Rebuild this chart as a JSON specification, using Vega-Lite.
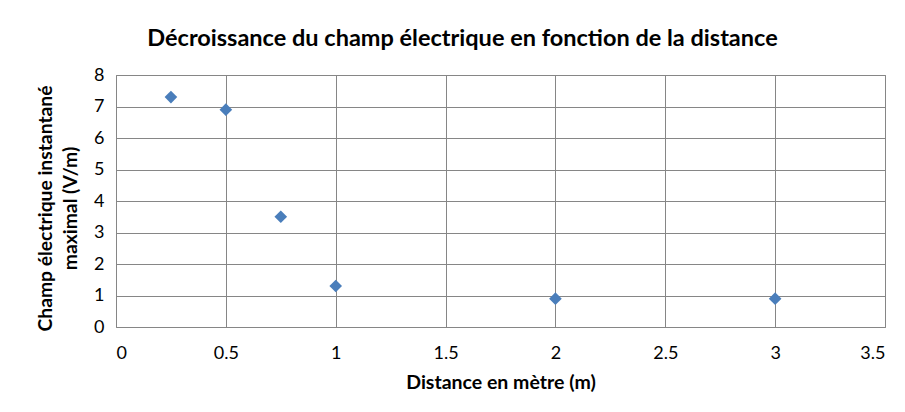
{
  "$schema": "https://vega.github.io/schema/vega-lite/v6.json",
  "autosize": "none",
  "width": 769,
  "height": 252,
  "padding": {"left": 116, "top": 75, "right": 20, "bottom": 85},
  "background": "white",
  "title": {
    "text": "Décroissance du champ électrique en fonction de la distance",
    "font": "Lato",
    "fontSize": 23.5,
    "fontWeight": "bold",
    "color": "#000000",
    "anchor": "middle",
    "dx": -38,
    "offset": 16
  },
  "data": {
    "values": [
      {"distance": 0.25, "champ": 7.3},
      {"distance": 0.5, "champ": 6.9},
      {"distance": 0.75, "champ": 3.5},
      {"distance": 1, "champ": 1.3},
      {"distance": 2, "champ": 0.9},
      {"distance": 3, "champ": 0.9}
    ]
  },
  "mark": {"type": "point", "shape": "diamond", "filled": true, "color": "#4A7EBB", "size": 160, "opacity": 1},
  "encoding": {
    "x": {
      "field": "distance",
      "type": "quantitative",
      "scale": {"domain": [0, 3.5], "nice": false, "zero": true},
      "axis": {
        "title": "Distance en mètre (m)",
        "values": [0, 0.5, 1, 1.5, 2, 2.5, 3, 3.5],
        "format": "~g",
        "grid": true,
        "gridColor": "#868686",
        "gridOpacity": 1,
        "domain": false,
        "ticks": false,
        "labelPadding": 17,
        "labelFont": "Lato",
        "labelFontSize": 18,
        "labelColor": "#000000",
        "titleFont": "Lato",
        "titleFontSize": 19.5,
        "titleFontWeight": "bold",
        "titleColor": "#000000",
        "titlePadding": 11
      }
    },
    "y": {
      "field": "champ",
      "type": "quantitative",
      "scale": {"domain": [0, 8], "nice": false},
      "axis": {
        "title": ["Champ électrique instantané", "maximal (V/m)"],
        "values": [0, 1, 2, 3, 4, 5, 6, 7, 8],
        "grid": true,
        "gridColor": "#868686",
        "gridOpacity": 1,
        "domain": false,
        "ticks": false,
        "labelPadding": 12,
        "labelFont": "Lato",
        "labelFontSize": 18,
        "labelColor": "#000000",
        "titleFont": "Lato",
        "titleFontSize": 19.3,
        "titleFontWeight": "bold",
        "titleColor": "#000000",
        "titlePadding": 13,
        "titleLineHeight": 25,
        "titleY": 133
      }
    }
  },
  "config": {
    "view": {"stroke": "#868686", "strokeWidth": 1}
  }
}
